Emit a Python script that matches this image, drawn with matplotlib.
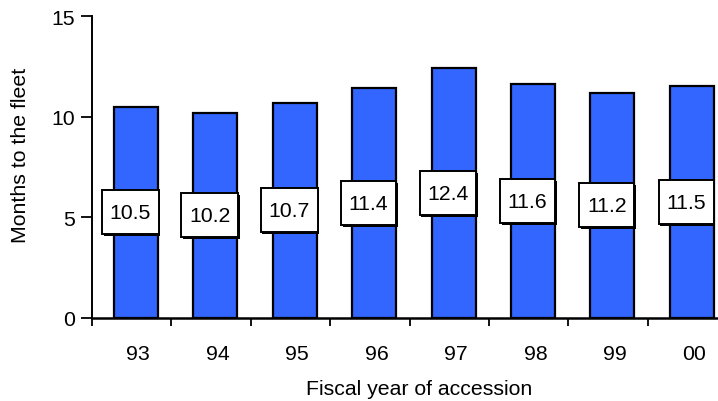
import matplotlib.pyplot as plt
import matplotlib.patheffects as pe
from matplotlib.path import Path
from matplotlib.ticker import FixedLocator

plt.rcParams['font.family'] = ['Liberation Sans', 'DejaVu Sans']

# dados
anos = ['93', '94', '95', '96', '97', '98', '99', '00']
meses = [10.5, 10.2, 10.7, 11.4, 12.4, 11.6, 11.2, 11.5]

cor_barra = '#3366FF'
fs = 15.3


# caixa retangular com margem horizontal menor que a vertical
def caixa(x0, y0, width, height, mutation_size):
    px = 0.36 * mutation_size
    py = 0.58 * mutation_size
    x0, y0 = x0 - px, y0 - py
    x1, y1 = x0 + width + 2 * px, y0 + height + 2 * py
    return Path([(x0, y0), (x1, y0), (x1, y1), (x0, y1), (x0, y0)],
                [Path.MOVETO, Path.LINETO, Path.LINETO, Path.LINETO, Path.CLOSEPOLY])


fig = plt.figure(figsize=(7.18, 4.02), dpi=100)
ax = fig.add_axes([0.128, 0.2065, 0.872, 0.7512])

x = list(range(len(anos)))
ax.bar(x, meses, width=0.555, color=cor_barra, edgecolor='black', linewidth=1.6, zorder=2)

# caixas com os valores (no meio da barra)
for i, v in enumerate(meses):
    t = ax.text(i - 0.07, v / 2, '%.1f' % v, ha='center', va='center', fontsize=fs, zorder=4,
                bbox=dict(boxstyle=caixa, facecolor='white', edgecolor='black', linewidth=1.4))
    t.get_bbox_patch().set_path_effects([
        pe.SimplePatchShadow(offset=(1.2, -1.2), shadow_rgbFace='black', alpha=1.0), pe.Normal()])

ax.set_xlim(-0.554, 7.33)
ax.set_ylim(0, 15)
ax.set_yticks([0, 5, 10, 15])

ax.set_xticks([i + 0.03 for i in x])
ax.set_xticklabels(anos)
ax.xaxis.set_minor_locator(FixedLocator([i - 0.554 for i in range(9)]))
ax.tick_params(axis='x', which='major', length=0, pad=19, labelsize=fs)
ax.tick_params(axis='x', which='minor', length=6, width=1.3, direction='out')
ax.tick_params(axis='y', length=8, width=1.3, pad=4, labelsize=fs)

for s in ['top', 'right']:
    ax.spines[s].set_visible(False)
ax.spines['left'].set_linewidth(1.4)
ax.spines['bottom'].set_linewidth(1.8)

fig.text(0.029, 0.614, 'Months to the fleet', rotation=90, ha='center', va='center', fontsize=fs)
fig.text(0.584, 0.03, 'Fiscal year of accession', ha='center', va='center', fontsize=fs)

plt.savefig('out.png', dpi=100)
